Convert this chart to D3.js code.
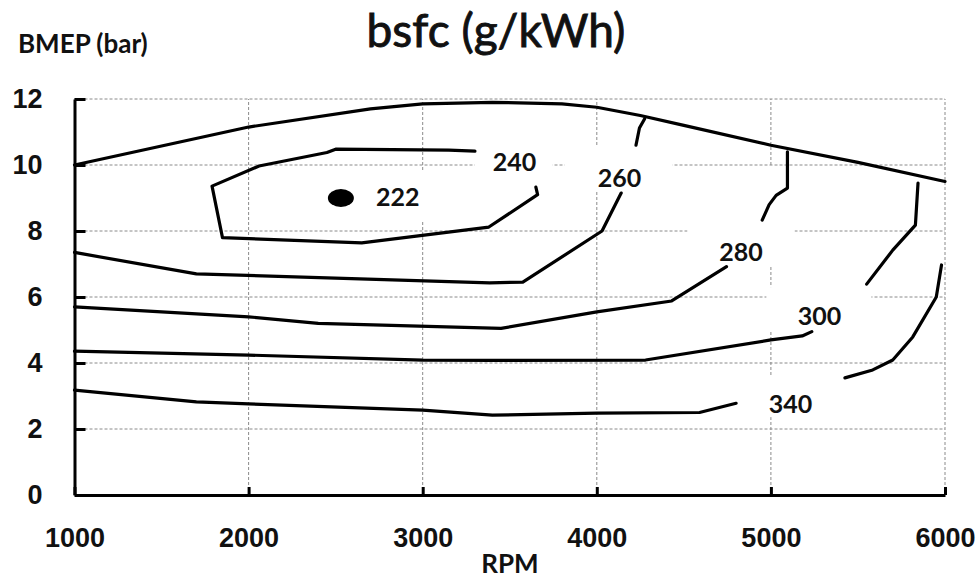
<!DOCTYPE html>
<html>
<head>
<meta charset="utf-8">
<script src="https://d3js.org/d3.v7.min.js"></script>
<style>
  html, body { margin: 0; padding: 0; background: #fff; }
  svg { display: block; font-family: Lato, "Open Sans", sans-serif; }
  .grid line { stroke: #8a8a8a; stroke-width: 1; stroke-dasharray: 3,2; }
  .axis path, .axis line { stroke: #000; stroke-width: 3; }
  .axis text { font-size: 27px; font-weight: bold; fill: #111; }
  .contour { fill: none; stroke: #000; stroke-width: 3.2; stroke-linejoin: round; stroke-linecap: round; }
  .clabel { font-size: 25px; font-weight: bold; fill: #111; }
</style>
</head>
<body>
<div id="chart"></div>
<script>
// axes
var rpmTicks = [1000, 2000, 3000, 4000, 5000, 6000];
var bmepTicks = [0, 2, 4, 6, 8, 10, 12];

// full load (max BMEP) line, rpm / bar
var fullLoad = [[1000,10],[2000,11.15],[2700,11.7],[3000,11.85],[3400,11.9],[3800,11.85],
  [4000,11.75],[4250,11.5],[4500,11.2],[5000,10.6],[5500,10.08],[6000,9.5]];

// bsfc iso lines, each split in pieces where the label cuts them
var bsfc240 = [
  [[3300,10.42],[3150,10.45],[2500,10.48],[2450,10.38],[2060,9.97],[1790,9.36],[1850,7.8],
   [2650,7.64],[3380,8.12],[3660,9.1],[3650,9.33]]
];
var bsfc260 = [
  [[4275,11.4],[4245,11.12],[4225,10.6]],
  [[4140,9.15],[4030,8.0],[3575,6.45],[3385,6.43],[1700,6.7],[1000,7.35]]
];
var bsfc280 = [
  [[5095,10.4],[5095,9.3],[5030,9.08],[4990,8.8],[4950,8.33]],
  [[4745,6.92],[4430,5.88],[4000,5.55],[3450,5.05],[2400,5.2],[2000,5.4],[1000,5.7]]
];
var bsfc300 = [
  [[5845,9.45],[5830,8.18],[5700,7.42],[5550,6.39]],
  [[5235,4.95],[5180,4.82],[5000,4.7],[4280,4.09],[3400,4.08],[3000,4.09],[2000,4.24],[1000,4.36]]
];
var bsfc340 = [
  [[5980,6.97],[5950,6.0],[5815,4.79],[5700,4.09],[5585,3.79],[5425,3.55]],
  [[4800,2.78],[4590,2.5],[4000,2.48],[3400,2.42],[3000,2.57],[2000,2.76],[1700,2.82],[1000,3.18]]
];

// minimum point
var minPoint = {rpm: 2530, bmep: 9.0};

// labels: text, rpm, bmep, and the white box behind each one [rpm0, rpm1, bmep0, bmep1]
var labelText = ['222', '240', '260', '280', '300', '340'];
var labelRpm  = [2857, 3528, 4131, 4828, 5279, 5113];
var labelBmep = [9.03, 10.08, 9.62, 7.35, 5.42, 2.76];
var labelBox = [
  [2667, 3029, 8.33, 9.79],
  [3299, 3746, 9.6, 10.39],
  [3815, 4435, 9.24, 10.55],
  [4521, 5136, 6.91, 9.94],
  [4974, 5577, 5.0, 6.3],
  [4934, 5307, 2.36, 3.58]
];

var W = 979, H = 579;
var svg = d3.select('#chart').append('svg')
    .attr('width', W)
    .attr('height', H);

var x = d3.scaleLinear().domain([1000, 6000]).range([74.5, 945]);
var y = d3.scaleLinear().domain([0, 12]).range([495, 99]);

// grid
var grid = svg.append('g').attr('class', 'grid');
grid.selectAll('line.h')
    .data(bmepTicks.slice(1)).enter().append('line')
    .attr('class', 'h')
    .attr('x1', x(1000)).attr('x2', x(6000))
    .attr('y1', function(d) { return y(d); })
    .attr('y2', function(d) { return y(d); });
grid.selectAll('line.v')
    .data(rpmTicks.slice(1)).enter().append('line')
    .attr('class', 'v')
    .attr('y1', y(0)).attr('y2', y(12))
    .attr('x1', function(d) { return x(d); })
    .attr('x2', function(d) { return x(d); });

// white boxes under labels
svg.append('g').selectAll('rect')
    .data(labelBox).enter().append('rect')
    .attr('x', function(d) { return x(d[0]); })
    .attr('width', function(d) { return x(d[1]) - x(d[0]); })
    .attr('y', function(d) { return y(d[3]); })
    .attr('height', function(d) { return y(d[2]) - y(d[3]); })
    .attr('fill', '#fff');

// axes
var xAxis = d3.axisBottom(x).tickValues(rpmTicks).tickSizeInner(-8).tickSizeOuter(0).tickPadding(33)
    .tickFormat(d3.format('d'));
var yAxis = d3.axisLeft(y).tickValues(bmepTicks).tickSizeInner(-11).tickSizeOuter(0).tickPadding(32)
    .tickFormat(d3.format('d'));

svg.append('g').attr('class', 'axis')
    .attr('transform', 'translate(0,' + y(0) + ')')
    .call(xAxis);
svg.append('g').attr('class', 'axis')
    .attr('transform', 'translate(' + x(1000) + ',0)')
    .call(yAxis);

// contour lines
var line = d3.line()
    .x(function(d) { return x(d[0]); })
    .y(function(d) { return y(d[1]); });

var pieces = [[fullLoad]].concat([bsfc240, bsfc260, bsfc280, bsfc300, bsfc340])
    .reduce(function(acc, lvl) { return acc.concat(lvl); }, []);

svg.append('g').selectAll('path')
    .data(pieces).enter().append('path')
    .attr('class', 'contour')
    .attr('d', line);

svg.append('ellipse')
    .attr('cx', x(minPoint.rpm))
    .attr('cy', y(minPoint.bmep))
    .attr('rx', 13)
    .attr('ry', 9)
    .attr('fill', '#000');

// contour labels
svg.append('g').selectAll('text')
    .data(labelText).enter().append('text')
    .attr('class', 'clabel')
    .attr('x', function(d, i) { return x(labelRpm[i]); })
    .attr('y', function(d, i) { return y(labelBmep[i]); })
    .attr('dy', '0.36em')
    .attr('text-anchor', 'middle')
    .text(function(d) { return d; });

// titles
svg.append('text')
    .attr('x', 496).attr('y', 47)
    .attr('text-anchor', 'middle')
    .style('font-size', '46px')
    .style('fill', '#111')
    .style('stroke', '#111')
    .style('stroke-width', 0.9)
    .text('bsfc (g/kWh)');

svg.append('text')
    .attr('x', 18).attr('y', 53)
    .style('font-size', '26px')
    .style('font-weight', 'bold')
    .style('fill', '#111')
    .text('BMEP (bar)');

svg.append('text')
    .attr('x', 510).attr('y', 573)
    .attr('text-anchor', 'middle')
    .style('font-size', '26px')
    .style('font-weight', 'bold')
    .style('fill', '#111')
    .text('RPM');
</script>
</body>
</html>
